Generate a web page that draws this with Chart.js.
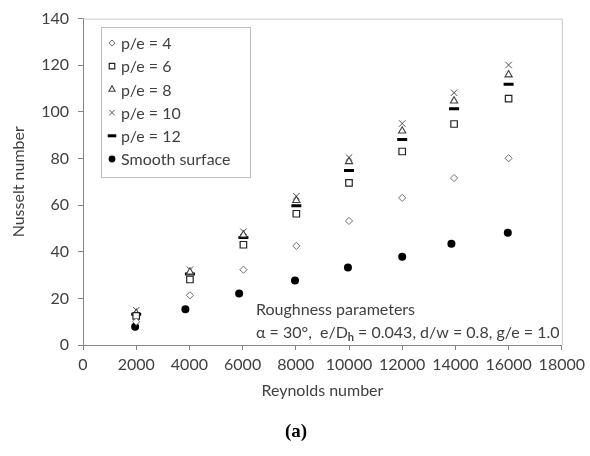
<!DOCTYPE html>
<html>
<head>
<meta charset="utf-8">
<script src="https://cdn.jsdelivr.net/npm/chart.js@4"></script>
<style>
  html, body { margin: 0; padding: 0; background: #fff; }
  #wrap { width: 590px; height: 456px; }
</style>
</head>
<body>
<div id="wrap"><canvas id="nusseltChart" width="590" height="456"></canvas></div>
<script>
// Reynolds numbers (x) for the ribbed cases and for the smooth duct
const reRough = [2000, 4020, 6030, 8020, 10000, 12000, 13950, 16000];
const reSmooth = [1960, 3850, 5870, 7970, 9960, 12000, 13850, 15970];

// Nusselt numbers
const pe4 = [10, 21.3, 32.3, 42.5, 53.2, 63.1, 71.6, 80.1];
const pe6 = [12.5, 28.1, 43, 56.3, 69.5, 83, 94.8, 105.7];
const pe8 = [13.6, 31.3, 47.2, 62, 78.7, 91.8, 104.7, 115.9];
const pe10 = [14.9, 32.3, 48.6, 63.8, 80.4, 95, 108.2, 120.1];
const pe12 = [13.2, 30.5, 46.1, 59.7, 74.8, 88.1, 101.3, 111.8];
const smooth = [7.8, 15.3, 22.1, 27.7, 33.2, 37.9, 43.4, 48.1];

const xTicks = [0, 2000, 4000, 6000, 8000, 10000, 12000, 14000, 16000, 18000];
const yTicks = [0, 20, 40, 60, 80, 100, 120, 140];

const FONT = "Lato, 'Open Sans', sans-serif";
const TEXT = "#404040";

const pts = (xs, ys) => ys.map((y, i) => ({ x: xs[i], y: y }));

const datasets = [
  { label: "p/e = 4", data: pts(reRough, pe4), pointStyle: "rectRot", pointRadius: 3.6, borderColor: "#707070", backgroundColor: "#fff", borderWidth: 1 },
  { label: "p/e = 6", data: pts(reRough, pe6), pointStyle: "rect", pointRadius: 4.6, borderColor: "#222", backgroundColor: "#fff", borderWidth: 1.2 },
  { label: "p/e = 8", data: pts(reRough, pe8), pointStyle: "triangle", pointRadius: 4.2, borderColor: "#404040", backgroundColor: "#fff", borderWidth: 1.1 },
  { label: "p/e = 10", data: pts(reRough, pe10), pointStyle: "crossRot", pointRadius: 4.6, borderColor: "#555", backgroundColor: "#fff", borderWidth: 1 },
  { label: "p/e = 12", data: pts(reRough, pe12), pointStyle: "line", pointRadius: 5, borderColor: "#000", backgroundColor: "#000", borderWidth: 3 },
  { label: "Smooth surface", data: pts(reSmooth, smooth), pointStyle: "circle", pointRadius: 4, borderColor: "#000", backgroundColor: "#000", borderWidth: 0 }
];

// frame, legend box, annotation and caption
const extras = {
  id: "extras",
  beforeDatasetsDraw(chart) {
    const { ctx, chartArea: a } = chart;
    ctx.save();
    ctx.strokeStyle = "#c8c8c8";
    ctx.lineWidth = 1;
    ctx.beginPath();
    ctx.moveTo(a.left, a.top + 0.5);
    ctx.lineTo(a.right + 0.5, a.top + 0.5);
    ctx.lineTo(a.right + 0.5, a.bottom);
    ctx.stroke();
    ctx.restore();
  },
  afterDraw(chart) {
    const { ctx } = chart;
    ctx.save();
    // legend
    ctx.fillStyle = "#fff";
    ctx.fillRect(101, 27, 149, 150);
    ctx.strokeStyle = "#c0c0c0";
    ctx.lineWidth = 1;
    ctx.strokeRect(101.5, 27.5, 149, 150);
    ctx.font = "16px " + FONT;
    ctx.textBaseline = "middle";
    ctx.textAlign = "left";
    chart.data.datasets.forEach((ds, i) => {
      const y = 43 + i * 23.2;
      ctx.strokeStyle = ds.borderColor;
      ctx.fillStyle = ds.backgroundColor;
      ctx.lineWidth = ds.borderWidth;
      Chart.helpers.drawPoint(ctx, {
        pointStyle: ds.pointStyle,
        radius: ds.pointRadius * 0.85,
        rotation: 0,
        borderWidth: ds.borderWidth
      }, 112, y);
      ctx.fillStyle = TEXT;
      ctx.fillText(ds.label, 121, y + 1);
    });
    // annotation
    ctx.fillStyle = TEXT;
    ctx.font = "16px " + FONT;
    ctx.fillText("Roughness parameters", 256, 310);
    let x = 256;
    const part = (t, f, dy) => {
      ctx.font = f;
      ctx.fillText(t, x, 333 + dy);
      x += ctx.measureText(t).width;
    };
    part("α = 30°,  e/D", "16px " + FONT, 0);
    part("h", "bold 11px " + FONT, 4);
    part(" = 0.043, d/w = 0.8, g/e = 1.0", "16px " + FONT, 0);
    // caption
    ctx.fillStyle = "#000";
    ctx.font = "bold 19px 'Liberation Serif', 'DejaVu Serif', serif";
    ctx.textAlign = "center";
    ctx.fillText("(a)", 296, 432);
    ctx.restore();
  }
};

new Chart(document.getElementById("nusseltChart"), {
  type: "scatter",
  data: { datasets: datasets },
  plugins: [extras],
  options: {
    responsive: false,
    animation: false,
    layout: { padding: { left: 0, top: 15, right: 22, bottom: 56 } },
    plugins: { legend: { display: false }, tooltip: { enabled: false } },
    scales: {
      x: {
        type: "linear",
        min: 0, max: 18000,
        afterBuildTicks: s => { s.ticks = xTicks.map(v => ({ value: v })); },
        afterFit: s => { s.height = 55; },
        grid: { drawOnChartArea: false, drawTicks: true, tickLength: 5, color: "#868686" },
        border: { color: "#868686" },
        ticks: { color: TEXT, font: { family: FONT, size: 16 }, padding: 5, maxRotation: 0, autoSkip: false, callback: v => String(v) },
        title: { display: true, text: "Reynolds number", color: TEXT, font: { family: FONT, size: 16 }, padding: { top: 0, bottom: 0 } }
      },
      y: {
        min: 0, max: 140,
        afterBuildTicks: s => { s.ticks = yTicks.map(v => ({ value: v })); },
        afterFit: s => { s.width = 83; },
        grid: { drawOnChartArea: false, drawTicks: true, tickLength: 5, color: "#868686" },
        border: { color: "#868686" },
        ticks: { color: TEXT, font: { family: FONT, size: 16 }, padding: 9 },
        title: { display: true, text: "Nusselt number", color: TEXT, font: { family: FONT, size: 16 }, padding: { top: 9, bottom: 0 } }
      }
    }
  }
});
</script>
</body>
</html>
